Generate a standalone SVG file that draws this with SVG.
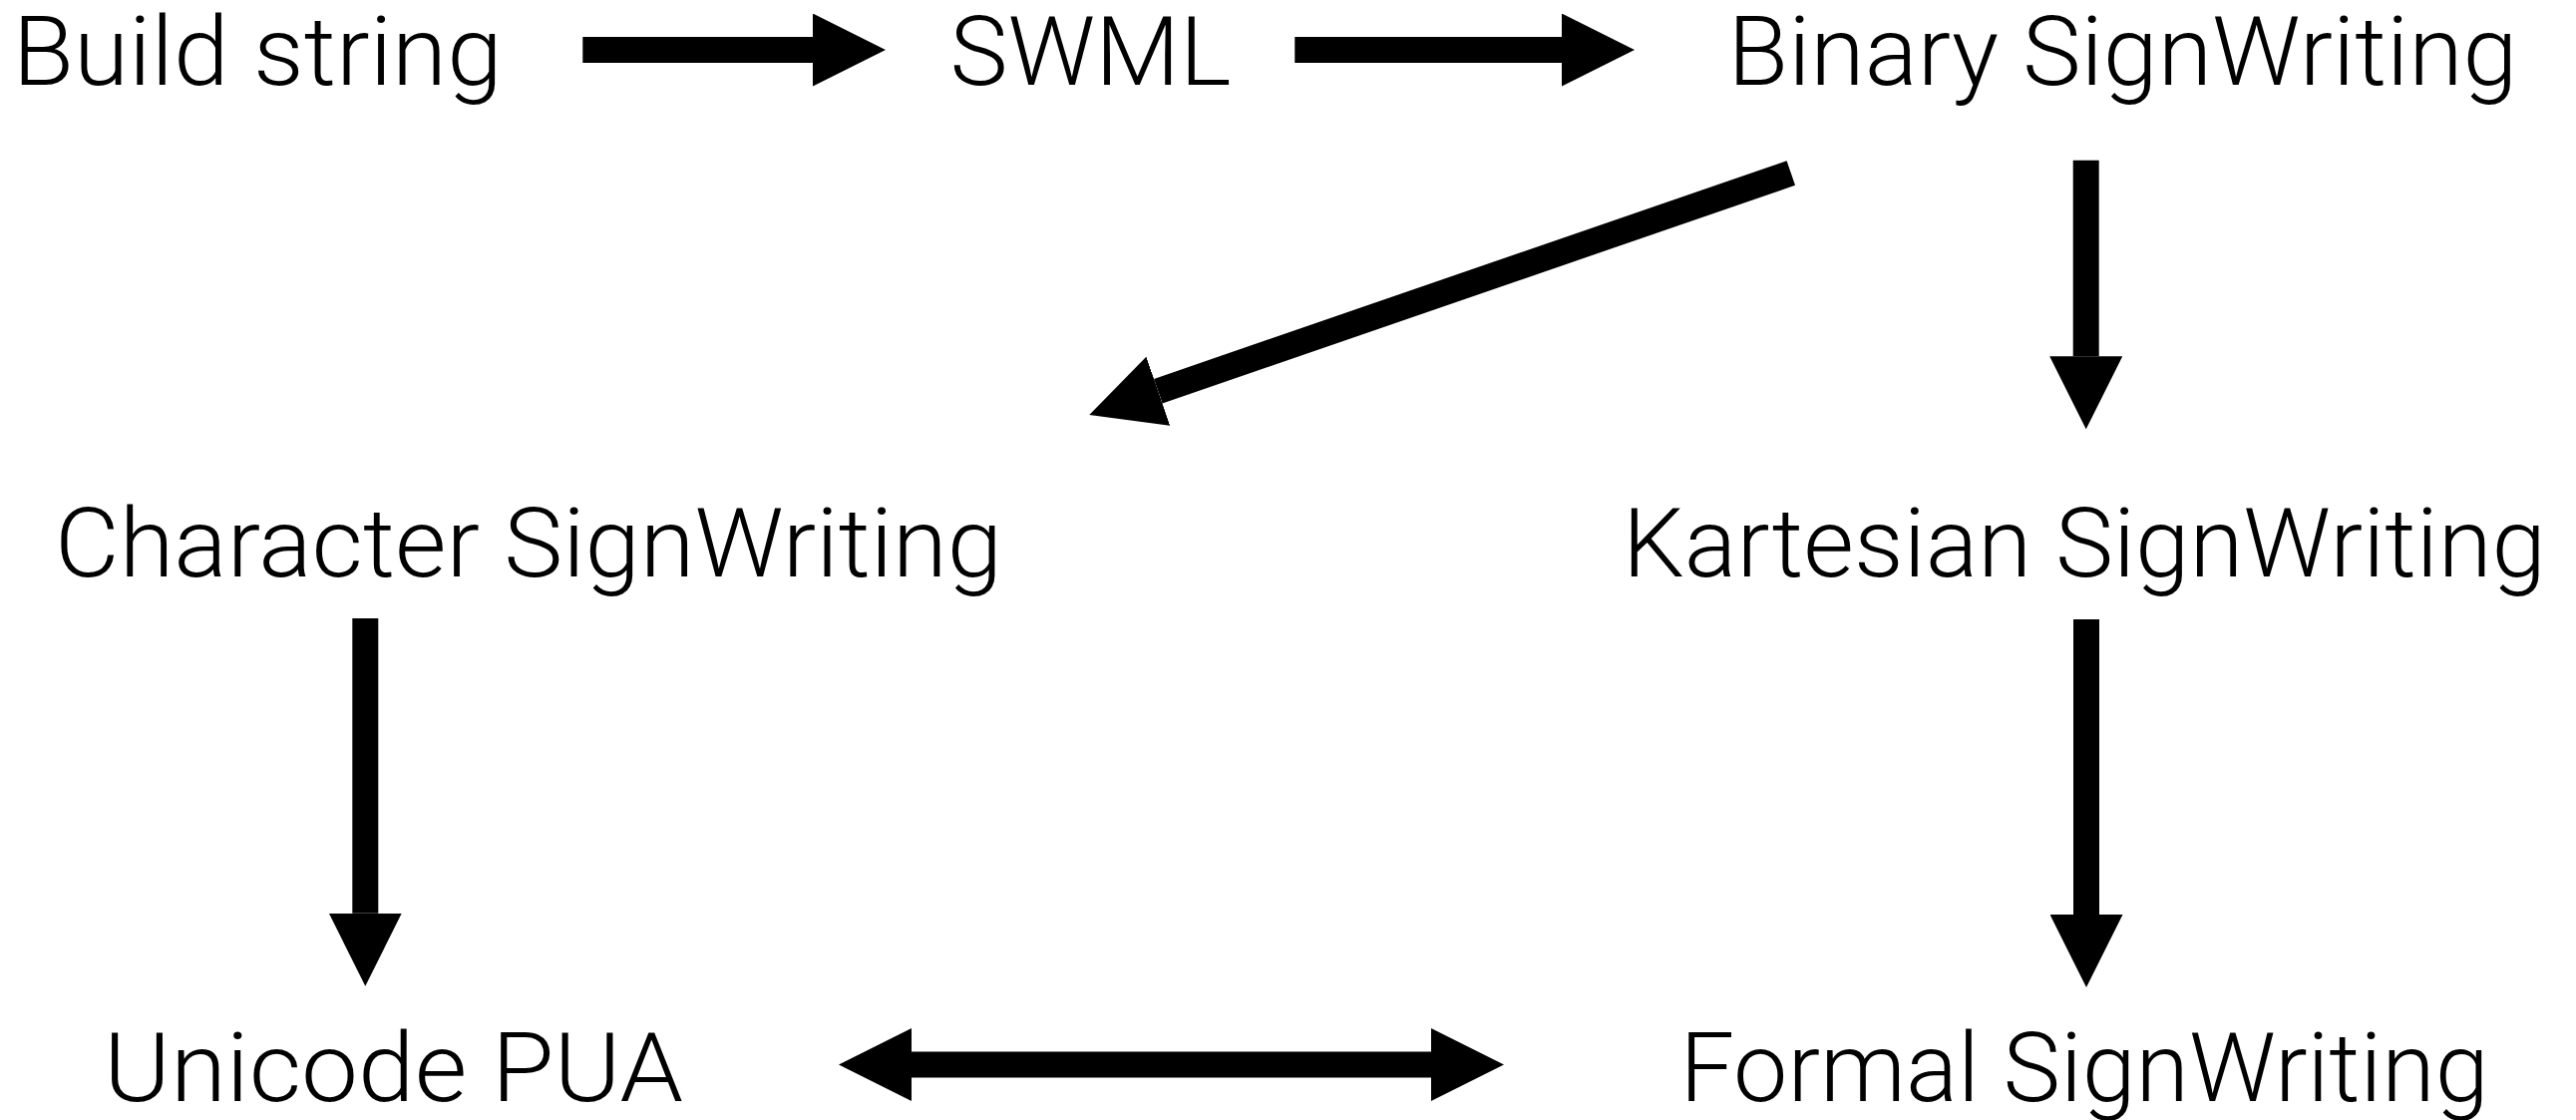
<svg xmlns="http://www.w3.org/2000/svg" width="2583" height="1123" viewBox="0 0 2583 1123">
<style>
.lbl{font-family:Roboto,"Liberation Sans","Helvetica Neue",Helvetica,Arial,sans-serif;font-weight:300;font-size:97px;fill:#000}
.conn{stroke:#000;stroke-width:26;fill:none}
</style>
<defs>
<marker id="head" markerUnits="userSpaceOnUse" markerWidth="73" markerHeight="73" viewBox="0 0 73 73" refX="0" refY="36.5" orient="auto-start-reverse">
<path d="M0,0 L73,36.5 L0,73 Z" fill="#000"/>
</marker>
</defs>
<rect width="2583" height="1123" fill="#fff"/>
<g id="connectors">
<line id="c-build-swml" class="conn" x1="584.3" y1="50" x2="815" y2="50" marker-end="url(#head)"/>
<line id="c-swml-binary" class="conn" x1="1298.3" y1="50" x2="1566" y2="50" marker-end="url(#head)"/>
<line id="c-binary-character" class="conn" x1="1795.8" y1="173.5" x2="1161.3" y2="392.2" marker-end="url(#head)"/>
<line id="c-binary-kartesian" class="conn" x1="2091.7" y1="160.7" x2="2091.7" y2="357.3" marker-end="url(#head)"/>
<line id="c-character-unicode" class="conn" x1="366.3" y1="620" x2="366.3" y2="915.7" marker-end="url(#head)"/>
<line id="c-kartesian-formal" class="conn" x1="2092" y1="621" x2="2092" y2="917" marker-end="url(#head)"/>
<line id="c-unicode-formal" class="conn" x1="914" y1="1067.5" x2="1435" y2="1067.5" marker-start="url(#head)" marker-end="url(#head)"/>
</g>
<g id="node-build-string"><text class="lbl" x="12.7" y="85" textLength="491" lengthAdjust="spacingAndGlyphs">Build string</text></g>
<g id="node-swml"><text class="lbl" x="952.5" y="85" textLength="282" lengthAdjust="spacingAndGlyphs">SWML</text></g>
<g id="node-binary"><text class="lbl" x="1732.5" y="85" textLength="792" lengthAdjust="spacingAndGlyphs">Binary SignWriting</text></g>
<g id="node-character"><text class="lbl" x="55" y="578" textLength="950" lengthAdjust="spacingAndGlyphs">Character SignWriting</text></g>
<g id="node-kartesian"><text class="lbl" x="1627" y="578" textLength="926" lengthAdjust="spacingAndGlyphs">Kartesian SignWriting</text></g>
<g id="node-unicode"><text class="lbl" x="104" y="1104" textLength="581" lengthAdjust="spacingAndGlyphs">Unicode PUA</text></g>
<g id="node-formal"><text class="lbl" x="1684.5" y="1104" textLength="811" lengthAdjust="spacingAndGlyphs">Formal SignWriting</text></g>
</svg>
